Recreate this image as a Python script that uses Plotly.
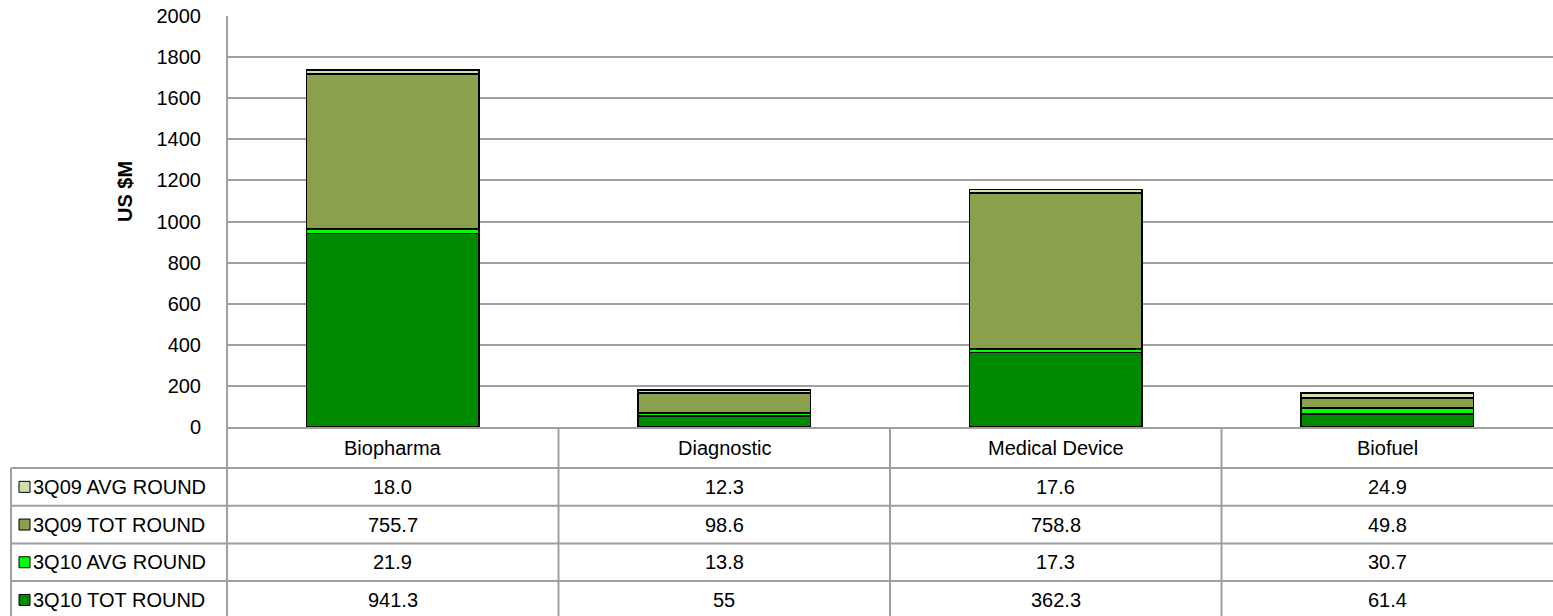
import plotly.graph_objects as go

# Sectors and funding values (US $M)
categories = ["Biopharma", "Diagnostic", "Medical Device", "Biofuel"]
avg_3q09 = [18.0, 12.3, 17.6, 24.9]
tot_3q09 = [755.7, 98.6, 758.8, 49.8]
avg_3q10 = [21.9, 13.8, 17.3, 30.7]
tot_3q10 = [941.3, 55, 362.3, 61.4]

y_ticks = [0, 200, 400, 600, 800, 1000, 1200, 1400, 1600, 1800, 2000]

# Stacking order: bottom first
series = [
    ("3Q10 TOT ROUND", tot_3q10, "#008a00"),
    ("3Q10 AVG ROUND", avg_3q10, "#00ff00"),
    ("3Q09 TOT ROUND", tot_3q09, "#8aa04c"),
    ("3Q09 AVG ROUND", avg_3q09, "#cfdfaa"),
]
# Data-table rows: top to bottom
table_rows = list(reversed(series))

W, H = 1553, 616
L, R, T, B = 227, 0, 16, 189
PW, PH = W - L - R, H - T - B
FONT = "Liberation Sans, Arial, sans-serif"
FS = 20
GRID = "#a0a0a0"


def px(x):
    return (x - L) / PW


def py(y):
    return (H - B - y) / PH


fig = go.Figure()
xs = list(range(len(categories)))
for name, vals, color in series:
    fig.add_trace(go.Bar(
        x=xs, y=vals, name=name,
        marker=dict(color=color, line=dict(color="black", width=1.8)),
        showlegend=False,
    ))

shapes = []
annotations = []

# Vertical axis line continuing down through the table
shapes.append(dict(type="line", xref="paper", yref="paper",
                   x0=0, x1=0, y0=1, y1=py(H + 2),
                   line=dict(color=GRID, width=2)))

# Column separators of the table
n = len(categories)
for i in range(1, n):
    xp = i / n
    shapes.append(dict(type="line", xref="paper", yref="paper",
                       x0=xp, x1=xp, y0=0, y1=py(H + 2),
                       line=dict(color=GRID, width=2)))

# Row layout of the table
header_bottom = 468
row_h = 37.7
row_tops = [header_bottom + k * row_h for k in range(len(table_rows))]

# Left border of the legend column
shapes.append(dict(type="line", xref="paper", yref="paper",
                   x0=px(11), x1=px(11), y0=py(header_bottom), y1=py(H + 2),
                   line=dict(color=GRID, width=2)))

for top in row_tops:
    shapes.append(dict(type="line", xref="paper", yref="paper",
                       x0=px(11), x1=1, y0=py(top), y1=py(top),
                       line=dict(color=GRID, width=2)))

# Category header labels
for i, cat in enumerate(categories):
    annotations.append(dict(
        x=(i + 0.5) / n, y=py((427 + header_bottom) / 2),
        xref="paper", yref="paper", text=cat, showarrow=False,
        xanchor="center", yanchor="middle",
        font=dict(family=FONT, size=FS, color="black")))

# Table rows: legend key, series name and values
for (name, vals, color), top in zip(table_rows, row_tops):
    yc = top + row_h / 2
    shapes.append(dict(type="rect", xref="paper", yref="paper",
                       x0=px(19), x1=px(30), y0=py(yc - 5.5), y1=py(yc + 5.5),
                       fillcolor=color, line=dict(color="black", width=1)))
    annotations.append(dict(
        x=px(31), y=py(yc), xref="paper", yref="paper", text=name,
        showarrow=False, xanchor="left", yanchor="middle",
        font=dict(family=FONT, size=FS, color="black")))
    for i, v in enumerate(vals):
        annotations.append(dict(
            x=(i + 0.5) / n, y=py(yc), xref="paper", yref="paper",
            text=str(v), showarrow=False, xanchor="center", yanchor="middle",
            font=dict(family=FONT, size=FS, color="black")))

# Axis title
annotations.append(dict(
    x=px(125), y=py(192), xref="paper", yref="paper", text="<b>US $M</b>",
    showarrow=False, textangle=-90, xanchor="center", yanchor="middle",
    font=dict(family=FONT, size=FS, color="black")))

fig.update_layout(
    width=W, height=H,
    margin=dict(l=L, r=R, t=T, b=B, pad=0),
    barmode="stack", bargap=0.48,
    plot_bgcolor="white", paper_bgcolor="white",
    font=dict(family=FONT, size=FS, color="black"),
    shapes=shapes, annotations=annotations,
    xaxis=dict(range=[-0.5, n - 0.5], showticklabels=False, showgrid=False,
               zeroline=False, showline=True, linecolor=GRID, linewidth=2,
               ticks="", fixedrange=True),
    yaxis=dict(range=[0, 2000], tickvals=y_ticks, showgrid=True,
               gridcolor=GRID, gridwidth=2, zeroline=False, showline=False,
               ticks="", ticklabelstandoff=25,
               tickfont=dict(family=FONT, size=FS, color="black"),
               fixedrange=True),
)

fig.write_html("out.html")
